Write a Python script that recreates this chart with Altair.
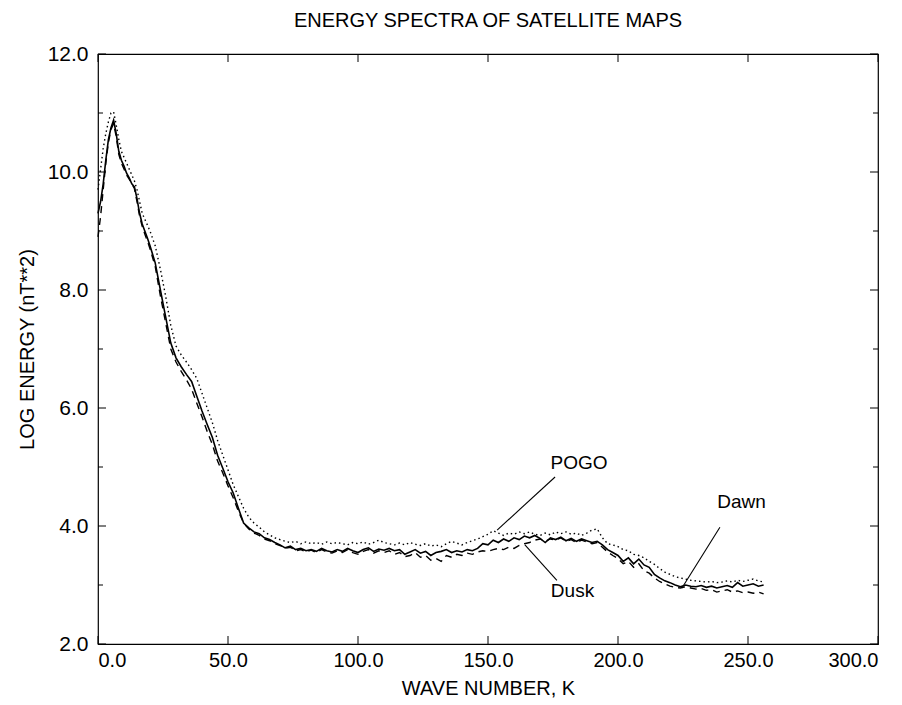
import altair as alt
import pandas as pd

# Wave number grid
k = list(range(0, 21)) + list(range(22, 257, 2))

# Log energy
dawn = [9.3, 9.5, 9.8, 10.2, 10.55, 10.75, 10.88, 10.65, 10.35, 10.2, 10.1, 9.98, 9.9, 9.8, 9.75, 9.55, 9.3, 9.12, 9.0, 8.88, 8.75,
        8.46, 8.0, 7.55, 7.1, 6.85, 6.7, 6.57, 6.45, 6.2, 5.95,
        5.72, 5.5, 5.2, 4.98, 4.75, 4.56, 4.3, 4.05, 3.97, 3.9,
        3.87, 3.8, 3.77, 3.72, 3.68, 3.63, 3.66, 3.6, 3.62, 3.58,
        3.6, 3.57, 3.62, 3.58, 3.56, 3.6, 3.57, 3.62, 3.58, 3.55,
        3.6, 3.63, 3.57, 3.61, 3.59, 3.62, 3.58, 3.6, 3.52, 3.56,
        3.6, 3.54, 3.57, 3.5, 3.55, 3.57, 3.6, 3.55, 3.58, 3.56,
        3.6, 3.58, 3.62, 3.7, 3.68, 3.76, 3.72, 3.78, 3.74, 3.8,
        3.77, 3.83, 3.8, 3.84, 3.79, 3.72, 3.8, 3.77, 3.81, 3.75,
        3.79, 3.74, 3.78, 3.75, 3.72, 3.74, 3.68, 3.6, 3.55, 3.5,
        3.4, 3.46, 3.36, 3.44, 3.34, 3.3, 3.18, 3.12, 3.07, 3.04,
        3.0, 2.97, 3.0, 2.98, 2.97, 2.99, 2.96, 2.98, 2.95, 2.97,
        2.99, 2.96, 3.04, 2.98, 3.0, 3.02, 2.98, 3.0]

pogo = [9.7, 10.05, 10.4, 10.65, 10.85, 11.0, 11.02, 10.8, 10.55, 10.35, 10.25, 10.15, 10.05, 9.95, 9.85, 9.7, 9.5, 9.3, 9.2, 9.1, 9.0,
        8.75, 8.35, 7.9, 7.4, 7.05, 6.9, 6.78, 6.65, 6.5, 6.25,
        6.0, 5.75, 5.45, 5.2, 4.95, 4.7, 4.5, 4.3, 4.15, 4.05,
        3.98, 3.9, 3.85, 3.8, 3.77, 3.74, 3.72, 3.74, 3.7, 3.73,
        3.7, 3.72, 3.69, 3.73, 3.7, 3.72, 3.7, 3.68, 3.72, 3.7,
        3.73, 3.69, 3.72, 3.76, 3.72, 3.7, 3.68, 3.71, 3.68, 3.72,
        3.69, 3.67, 3.7, 3.66, 3.68, 3.65, 3.7, 3.74, 3.71, 3.68,
        3.72, 3.75, 3.78, 3.82, 3.86, 3.92, 3.88, 3.84, 3.88, 3.86,
        3.9, 3.87, 3.9, 3.86, 3.84, 3.88, 3.85, 3.9, 3.87, 3.9,
        3.86, 3.88, 3.84, 3.88, 3.93, 3.95, 3.8, 3.7, 3.68, 3.65,
        3.6, 3.58, 3.52, 3.5, 3.46, 3.4, 3.35, 3.28, 3.22, 3.18,
        3.14, 3.12, 3.1, 3.08, 3.07, 3.06, 3.05, 3.06, 3.04, 3.05,
        3.07, 3.05, 3.08, 3.06, 3.08, 3.1, 3.07, 3.05]

dusk = [8.9, 9.25, 9.7, 10.15, 10.5, 10.72, 10.82, 10.6, 10.3, 10.15, 10.05, 9.95, 9.88, 9.8, 9.72, 9.5, 9.25, 9.08, 8.95, 8.83, 8.7,
        8.4, 7.9, 7.45, 7.0, 6.78, 6.62, 6.48, 6.32, 6.08, 5.85,
        5.6, 5.38, 5.1, 4.9, 4.68, 4.48, 4.25, 4.05, 3.95, 3.88,
        3.84, 3.78, 3.75, 3.7, 3.67, 3.62, 3.64, 3.58, 3.6, 3.56,
        3.59, 3.55, 3.6, 3.56, 3.54, 3.58, 3.55, 3.6, 3.55, 3.52,
        3.57, 3.6, 3.54, 3.58, 3.55, 3.58, 3.52, 3.55, 3.48, 3.5,
        3.55, 3.47, 3.5, 3.42, 3.45, 3.4, 3.5, 3.47, 3.52, 3.5,
        3.54, 3.52, 3.56, 3.58, 3.57, 3.6, 3.62, 3.6, 3.64, 3.62,
        3.67, 3.7, 3.72, 3.76, 3.78, 3.74, 3.78, 3.76, 3.8, 3.74,
        3.77, 3.72, 3.76, 3.73, 3.7, 3.72, 3.64, 3.56, 3.5, 3.45,
        3.36, 3.4, 3.3, 3.36, 3.24, 3.2, 3.12, 3.06, 3.02, 2.98,
        2.96, 2.95, 2.97, 2.95, 2.93, 2.94, 2.91, 2.92, 2.88, 2.9,
        2.92, 2.88, 2.9, 2.87, 2.88, 2.86, 2.88, 2.85]

x_ticks = [0, 50, 100, 150, 200, 250, 300]
y_major = [2, 4, 6, 8, 10, 12]
y_minor = [3, 5, 7, 9, 11]

labels = ["POGO", "Dusk", "Dawn"]
label_k = [185, 182.5, 247.5]
label_e = [5.07, 2.9, 4.41]
lead_k1 = [153.5, 164.2, 239.2]
lead_e1 = [3.93, 3.68, 3.98]
lead_k2 = [175.8, 176.5, 224.6]
lead_e2 = [4.83, 3.08, 2.95]

FONT = "Liberation Sans"
W, H = 780, 590

df = pd.DataFrame({"k": k, "Dawn": dawn, "POGO": pogo, "Dusk": dusk})

xs = alt.Scale(domain=[0, 300], nice=False)
ys = alt.Scale(domain=[2, 12], nice=False)

base = alt.Chart(df)

xaxis = alt.Axis(values=x_ticks, format=".1f", tickSize=0, domain=False, grid=False,
                 labelFontSize=20, labelFont=FONT, labelColor="black", labelPadding=6,
                 title="WAVE NUMBER, K", titleFont=FONT, titleFontSize=20,
                 titleFontWeight="normal", titleColor="black", titlePadding=8)
yaxis = alt.Axis(values=y_major, format=".1f", tickSize=0, domain=False, grid=False,
                 labelFontSize=21, labelFont=FONT, labelColor="black", labelPadding=10,
                 title="LOG ENERGY (nT**2)", titleFont=FONT, titleFontSize=20,
                 titleFontWeight="normal", titleColor="black", titlePadding=10)

dawn_line = base.mark_line(color="black", strokeWidth=1.6).encode(
    x=alt.X("k:Q", scale=xs, axis=xaxis),
    y=alt.Y("Dawn:Q", scale=ys, axis=yaxis),
)
dusk_line = base.mark_line(color="black", strokeWidth=1.4, strokeDash=[7, 5]).encode(
    x=alt.X("k:Q", scale=xs), y=alt.Y("Dusk:Q", scale=ys)
)
pogo_line = base.mark_line(color="black", strokeWidth=1.4, strokeDash=[1.5, 3]).encode(
    x=alt.X("k:Q", scale=xs), y=alt.Y("POGO:Q", scale=ys)
)

xt = pd.DataFrame({"v": x_ticks})
ymj = pd.DataFrame({"v": y_major})
ymn = pd.DataFrame({"v": y_minor})

tick_bottom = alt.Chart(xt).mark_rule(color="black", strokeWidth=1).encode(
    x=alt.X("v:Q", scale=xs), y=alt.value(H), y2=alt.value(H - 8))
tick_top = alt.Chart(xt).mark_rule(color="black", strokeWidth=1).encode(
    x=alt.X("v:Q", scale=xs), y=alt.value(0), y2=alt.value(8))
tick_left_major = alt.Chart(ymj).mark_rule(color="black", strokeWidth=1).encode(
    y=alt.Y("v:Q", scale=ys), x=alt.value(0), x2=alt.value(8))
tick_left_minor = alt.Chart(ymn).mark_rule(color="black", strokeWidth=1).encode(
    y=alt.Y("v:Q", scale=ys), x=alt.value(0), x2=alt.value(5))
tick_right_major = alt.Chart(ymj).mark_rule(color="black", strokeWidth=1).encode(
    y=alt.Y("v:Q", scale=ys), x=alt.value(W), x2=alt.value(W - 8))
tick_right_minor = alt.Chart(ymn).mark_rule(color="black", strokeWidth=1).encode(
    y=alt.Y("v:Q", scale=ys), x=alt.value(W), x2=alt.value(W - 5))

ann = pd.DataFrame({"label": labels, "lk": label_k, "le": label_e,
                    "k1": lead_k1, "e1": lead_e1, "k2": lead_k2, "e2": lead_e2})
leaders = alt.Chart(ann).mark_rule(color="black", strokeWidth=1.1).encode(
    x=alt.X("k1:Q", scale=xs), y=alt.Y("e1:Q", scale=ys),
    x2="k2:Q", y2="e2:Q")
texts = alt.Chart(ann).mark_text(font=FONT, fontSize=19, color="black",
                                 align="center", baseline="middle").encode(
    x=alt.X("lk:Q", scale=xs), y=alt.Y("le:Q", scale=ys), text="label:N")

chart = alt.layer(
    dawn_line, dusk_line, pogo_line,
    tick_bottom, tick_top, tick_left_major, tick_left_minor,
    tick_right_major, tick_right_minor, leaders, texts
).properties(
    width=W, height=H,
    background="white",
    title=alt.TitleParams("ENERGY SPECTRA OF SATELLITE MAPS", font=FONT, fontSize=20,
                          fontWeight="normal", color="black", anchor="middle", offset=12),
    autosize=alt.AutoSizeParams(type="none"),
    padding={"left": 90, "top": 46, "right": 16, "bottom": 55},
).configure_view(stroke="black", strokeWidth=1.2)

chart.save("out.html", embed_options={"renderer": "svg", "actions": False})
